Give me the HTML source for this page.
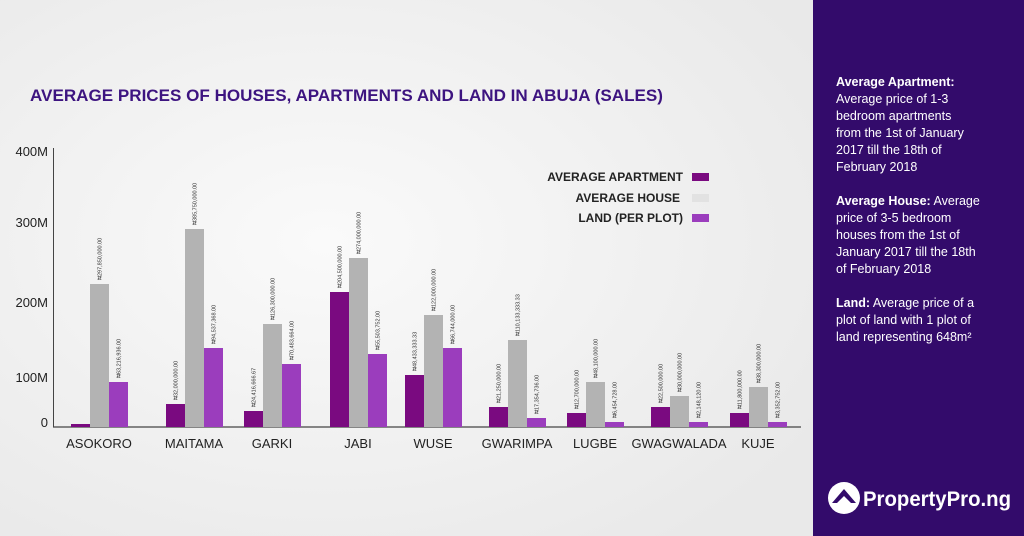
<!DOCTYPE html>
<html><head><meta charset="utf-8"><style>
html,body{margin:0;width:1024px;height:536px;overflow:hidden;background:#f0f0f0;font-family:"Liberation Sans",sans-serif}
svg{display:block}
</style></head><body>
<svg width="1024" height="536" viewBox="0 0 1024 536" xmlns="http://www.w3.org/2000/svg" font-family="Liberation Sans, sans-serif">
<defs><radialGradient id="bg" cx="0.4" cy="0.45" r="0.7"><stop offset="0" stop-color="#fafafa"/><stop offset="1" stop-color="#e9e9e9"/></radialGradient></defs>
<rect width="813" height="536" fill="url(#bg)"/>
<rect x="813" width="211" height="536" fill="#330b6b"/>
<text x="30" y="101" font-size="17" font-weight="bold" fill="#3d1480" textLength="633" lengthAdjust="spacingAndGlyphs">AVERAGE PRICES OF HOUSES, APARTMENTS AND LAND IN ABUJA (SALES)</text>
<g font-size="13" fill="#222">
<text x="48" y="156" text-anchor="end">400M</text>
<text x="48" y="227" text-anchor="end">300M</text>
<text x="48" y="307" text-anchor="end">200M</text>
<text x="48" y="382" text-anchor="end">100M</text>
<text x="48" y="427" text-anchor="end">0</text>
</g>
<line x1="53.5" y1="148" x2="53.5" y2="427" stroke="#444" stroke-width="1"/>
<line x1="53" y1="427" x2="801" y2="427" stroke="#444" stroke-width="1.2"/>
<g font-size="12" font-weight="bold" fill="#222" text-anchor="end">
<text x="683" y="181">AVERAGE APARTMENT</text>
<text x="680" y="202">AVERAGE HOUSE</text>
<text x="683" y="222">LAND (PER PLOT)</text>
</g>
<rect x="692" y="173" width="17" height="8" fill="#7a0a80"/>
<rect x="692" y="194" width="17" height="8" fill="#e2e2e2"/>
<rect x="692" y="214" width="17" height="8" fill="#9b3dbd"/>
<g id="bars"></g>
<g font-size="13" fill="#222" text-anchor="middle">
<text x="99" y="448">ASOKORO</text>
<text x="194" y="448">MAITAMA</text>
<text x="272" y="448">GARKI</text>
<text x="358" y="448">JABI</text>
<text x="433" y="448">WUSE</text>
<text x="517" y="448">GWARIMPA</text>
<text x="595" y="448">LUGBE</text>
<text x="679" y="448">GWAGWALADA</text>
<text x="758" y="448">KUJE</text>
</g>
<g fill="#fff" font-size="12.5">
<text x="836" y="86" font-weight="bold">Average Apartment:</text>
<text x="836" y="103">Average price of 1-3</text>
<text x="836" y="120">bedroom apartments</text>
<text x="836" y="137">from the 1st of January</text>
<text x="836" y="154">2017 till the 18th of</text>
<text x="836" y="171">February 2018</text>
<text x="836" y="205"><tspan font-weight="bold">Average House:</tspan> Average</text>
<text x="836" y="222">price of  3-5 bedroom</text>
<text x="836" y="239">houses from the 1st of</text>
<text x="836" y="256">January 2017 till the 18th</text>
<text x="836" y="273">of February 2018</text>
<text x="836" y="307"><tspan font-weight="bold">Land:</tspan> Average price of a</text>
<text x="836" y="324">plot of land with 1 plot of</text>
<text x="836" y="341">land representing 648m²</text>
</g>
<circle cx="844" cy="498" r="16" fill="#fff"/>
<path d="M832 503 L844 489 L856 503 L851 503 L844 496 L837 503 Z" fill="#330b6b"/>
<text x="863" y="506" fill="#fff" font-size="21" font-weight="bold" textLength="148" lengthAdjust="spacingAndGlyphs">PropertyPro.ng</text>
</svg>
<script>
var d=[[71,424,284,382,"₦2,","₦297,850,000.00","₦63,216,936.00"],
[166,404,229,348,"₦32,000,000.00","₦385,750,000.00","₦94,537,368.00"],
[244,411,324,364,"₦24,416,666.67","₦126,300,000.00","₦70,483,664.00"],
[330,292,258,354,"₦204,500,000.00","₦274,000,000.00","₦55,503,752.00"],
[405,375,315,348,"₦48,433,333.33","₦122,000,000.00","₦66,744,000.00"],
[489,407,340,418,"₦21,250,000.00","₦110,133,333.33","₦17,354,736.00"],
[567,413,382,422,"₦12,700,000.00","₦48,100,000.00","₦6,454,728.00"],
[651,407,396,422,"₦22,500,000.00","₦30,000,000.00","₦2,148,120.00"],
[730,413,387,422,"₦11,800,000.00","₦38,300,000.00","₦3,352,752.00"]];
var c=["#7a0a80","#b3b3b3","#9b3dbd"],s="";
d.forEach(function(r){for(var i=0;i<3;i++){var x=r[0]+i*19,t=r[i+1];s+='<rect x="'+x+'" y="'+t+'" width="19" height="'+(427-t)+'" fill="'+c[i]+'"/>';if(i>0||r[0]!=71)s+='<text transform="translate('+(x+11.5)+','+(t-4)+') rotate(-90)" font-size="5.5" fill="#333">'+r[i+4]+'</text>';}});
document.getElementById("bars").innerHTML=s;
</script>
</body></html>
